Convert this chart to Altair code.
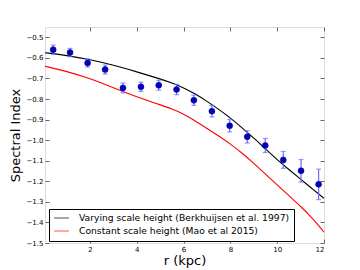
import altair as alt
import pandas as pd

# Observed points
r_pts = [0.43, 1.15, 1.90, 2.65, 3.41, 4.18, 4.94, 5.70, 6.44, 7.21, 7.97, 8.72, 9.49, 10.26, 11.02, 11.77]
si_pts = [-0.560, -0.574, -0.625, -0.657, -0.746, -0.741, -0.733, -0.754, -0.806, -0.859,
          -0.930, -0.984, -1.026, -1.096, -1.149, -1.215]
si_err = [0.022, 0.020, 0.020, 0.022, 0.024, 0.022, 0.024, 0.025, 0.025, 0.028,
          0.030, 0.030, 0.034, 0.041, 0.055, 0.074]

# Model curves
r_model = [0.08, 1, 2, 3, 4, 5, 5.5, 6, 6.5, 7, 7.5, 8, 8.5, 9, 9.5, 10, 10.5, 11, 11.5, 12]
si_vary = [-0.575, -0.588, -0.608, -0.635, -0.668, -0.702, -0.722, -0.745, -0.775, -0.811, -0.850,
           -0.892, -0.940, -0.990, -1.043, -1.095, -1.143, -1.190, -1.236, -1.283]
si_const = [-0.641, -0.665, -0.700, -0.745, -0.790, -0.828, -0.848, -0.872, -0.906, -0.943, -0.980,
            -1.018, -1.063, -1.112, -1.165, -1.218, -1.270, -1.322, -1.378, -1.447]

lab_vary = "Varying scale height (Berkhuijsen et al. 1997)"
lab_const = "Constant scale height (Mao et al 2015)"

x_ticks = [2, 4, 6, 8, 10, 12]
y_ticks = [-1.5, -1.4, -1.3, -1.2, -1.1, -1.0, -0.9, -0.8, -0.7, -0.6, -0.5]

pts = pd.DataFrame({"r": r_pts, "si": si_pts, "err": si_err})
pts["lo"] = pts["si"] - pts["err"]
pts["hi"] = pts["si"] + pts["err"]

lines = pd.concat([
    pd.DataFrame({"r": r_model, "si": si_vary, "model": lab_vary, "order": 0}),
    pd.DataFrame({"r": r_model, "si": si_const, "model": lab_const, "order": 1}),
])

FONT = "DejaVu Sans"
xs = alt.Scale(domain=[0.08, 12], nice=False, zero=False)
ys = alt.Scale(domain=[-1.5, -0.45], nice=False, zero=False)

ax_common = dict(grid=False, domain=False, tickSize=4, offset=-4, tickColor="#666666",
                 tickWidth=1, labelFont=FONT, labelFontSize=7, labelColor="black",
                 titleFont=FONT, titleFontSize=13, titleFontWeight="normal", titleColor="black")

x_axis = alt.Axis(values=x_ticks, format="d", labelPadding=2, titlePadding=2,
                  title="r (kpc)", orient="bottom", **ax_common)
y_axis = alt.Axis(values=y_ticks, format=".1f", labelPadding=2, titlePadding=4,
                  title="Spectral Index", orient="left", **ax_common)

mirror_common = dict(grid=False, domain=False, tickSize=4, offset=-4, tickColor="#666666",
                     tickWidth=1, labels=False, title=None)
x_axis_top = alt.Axis(values=x_ticks, orient="top", **mirror_common)
y_axis_right = alt.Axis(values=y_ticks, orient="right", **mirror_common)

line_layer = alt.Chart(lines).mark_line(strokeWidth=1.1, interpolate="basis").encode(
    x=alt.X("r:Q", scale=xs, axis=x_axis),
    y=alt.Y("si:Q", scale=ys, axis=y_axis),
    color=alt.Color("model:N",
                    scale=alt.Scale(domain=[lab_vary, lab_const], range=["black", "red"]),
                    legend=alt.Legend(title=None, orient="none", legendX=4, legendY=182,
                                      fillColor="white", strokeColor="black", padding=4,
                                      symbolType="stroke", symbolSize=220,
                                      symbolStrokeWidth=1.5, symbolOpacity=0.45,
                                      labelFont=FONT, labelFontSize=9.2, labelLimit=400,
                                      labelOffset=9, rowPadding=2, clipHeight=10,
                                      cornerRadius=0)),
    detail="order:N",
)

err_rule = alt.Chart(pts).mark_rule(color="#6a6aff", strokeWidth=1.2).encode(
    x=alt.X("r:Q", scale=xs, axis=None),
    y=alt.Y("lo:Q", scale=ys, axis=None),
    y2="hi:Q",
)
cap_lo = alt.Chart(pts).mark_tick(color="#6a6aff", size=5, thickness=1.2, orient="horizontal").encode(
    x=alt.X("r:Q", scale=xs, axis=None),
    y=alt.Y("lo:Q", scale=ys, axis=None),
)
cap_hi = alt.Chart(pts).mark_tick(color="#6a6aff", size=5, thickness=1.2, orient="horizontal").encode(
    x=alt.X("r:Q", scale=xs, axis=None),
    y=alt.Y("hi:Q", scale=ys, axis=None),
)
dots = alt.Chart(pts).mark_point(filled=True, size=36, color="#0000c0", opacity=1,
                                 stroke="#00007a", strokeWidth=0.5).encode(
    x=alt.X("r:Q", scale=xs, axis=x_axis_top),
    y=alt.Y("si:Q", scale=ys, axis=y_axis_right),
)

chart = alt.layer(line_layer, err_rule, cap_lo, cap_hi, dots).resolve_axis(
    x="independent", y="independent"
).properties(
    width=279, height=216,
    autosize=alt.AutoSizeParams(type="none"),
    padding={"left": 37, "top": 19, "right": 28, "bottom": 27},
).configure_view(
    stroke="#8c8c8c", strokeWidth=1.6
).configure(background="white")

chart.save("out.html", embed_options={"renderer": "svg", "actions": False})
